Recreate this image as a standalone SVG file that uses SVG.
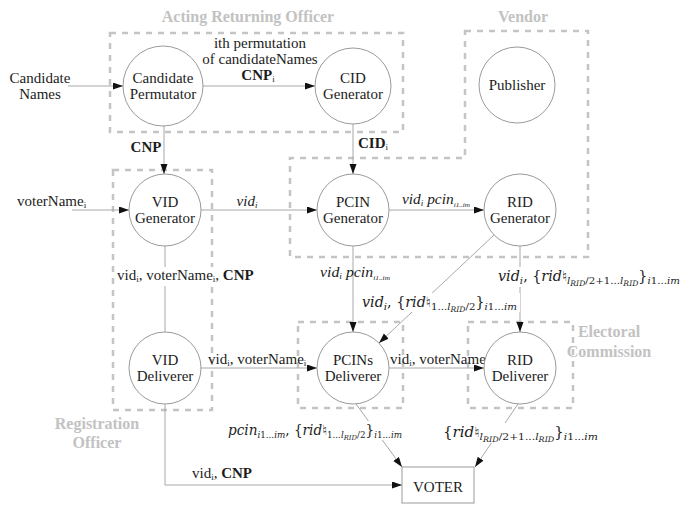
<svg xmlns="http://www.w3.org/2000/svg" width="694" height="506" viewBox="0 0 694 506">
<defs>
<marker id="ah" markerUnits="userSpaceOnUse" markerWidth="11" markerHeight="8" refX="10" refY="3.5" orient="auto"><path d="M0,0 L10,3.5 L0,7 z" fill="#111"/></marker>
<style>
.n{fill:#fff;stroke:#9a9a9a;stroke-width:1}
.t{font-family:"Liberation Serif","Times New Roman",serif;font-size:15px;fill:#1c1c1c}
.c{text-anchor:middle}
.b{font-weight:bold}
.s{font-size:9px}
.g{font-family:"Liberation Serif","Times New Roman",serif;font-size:16px;font-weight:bold;fill:#c2c2c2;text-anchor:middle}
.d{fill:none;stroke:#c4c4c4;stroke-width:2.5;stroke-dasharray:6 6}
.e{fill:none;stroke:#a8a8a8;stroke-width:1}
.a{marker-end:url(#ah)}
.m{font-family:"DejaVu Serif","Liberation Serif",serif;font-size:14px;fill:#1c1c1c}
.i{font-style:italic}
.ms{font-size:10px}
.mss{font-size:7.5px}
.w{fill:#fff}
</style>
</defs>
<rect width="694" height="506" fill="#fff"/>
<g id="groups">
<rect class="d" x="110" y="33" width="293" height="99"/>
<path class="d" d="M465,31 H588 V257 H290 V158 H465 Z"/>
<rect class="d" x="113" y="170" width="99" height="240"/>
<rect class="d" x="298" y="322" width="105" height="86"/>
<rect class="d" x="468" y="322" width="105" height="86"/>
<text class="g" x="248" y="22">Acting Returning Officer</text>
<text class="g" x="523" y="22">Vendor</text>
<text class="g" x="97" y="429">Registration</text>
<text class="g" x="97" y="448">Officer</text>
<text class="g" x="609" y="337">Electoral</text>
<text class="g" x="609" y="357">Commission</text>
</g>
<g id="connectors">
<path class="e a" d="M68,86 H123"/>
<path class="e a" d="M203,86 H315"/>
<path class="e a" d="M164,126 V174"/>
<path class="e a" d="M72,210 H129"/>
<path class="e a" d="M201,210 H317"/>
<path class="e a" d="M353,124 V174"/>
<path class="e a" d="M389,210 H484"/>
<path class="e a" d="M353,246 V332"/>
<path class="e a" d="M494,235 L379,343"/>
<path class="e a" d="M520,246 V332"/>
<path class="e" d="M165,246 V332"/>
<path class="e a" d="M201,368 H317"/>
<path class="e a" d="M389,368 H484"/>
<path class="e a" d="M165,404 V485 H402"/>
<path class="e a" d="M356,404 L402,467"/>
<path class="e a" d="M518,404 L475,467"/>
</g>
<g id="labels">
<text class="t c" x="40" y="83">Candidate</text>
<text class="t c" x="40" y="99">Names</text>
<text class="t c" x="260" y="48">ith permutation</text>
<text class="t c" x="260" y="64">of candidateNames</text>
<text class="t c" x="258" y="80"><tspan class="b">CNP</tspan><tspan class="s" dy="2">i</tspan></text>
<text class="t c b" x="146" y="152">CNP</text>
<text class="t" x="358" y="148"><tspan class="b">CID</tspan><tspan class="s" dy="2">i</tspan></text>
<text class="t" x="17" y="206">voterName<tspan class="s" dy="2">i</tspan></text>
<text class="t c" x="247" y="206"><tspan class="i">vid</tspan><tspan class="s i" dy="2">i</tspan></text>
<text class="t" x="402" y="204" textLength="68" lengthAdjust="spacingAndGlyphs"><tspan class="i">vid</tspan><tspan class="s i" dy="2">i</tspan><tspan class="i" dy="-2"> pcin</tspan><tspan class="i" font-size="7" dy="3">i1..im</tspan></text>
<text class="t" x="320" y="277" textLength="70" lengthAdjust="spacingAndGlyphs"><tspan class="i">vid</tspan><tspan class="s i" dy="2">i</tspan><tspan class="i" dy="-2"> pcin</tspan><tspan class="i" font-size="7" dy="3">i1..im</tspan></text>
<rect class="w" x="360" y="293" width="160" height="19"/>
<text class="m" x="362" y="307" textLength="155" lengthAdjust="spacingAndGlyphs"><tspan class="i">vid</tspan><tspan class="ms i" dy="3">i</tspan><tspan dy="-3">, {</tspan><tspan class="i">rid</tspan><tspan>♮</tspan><tspan class="ms" dy="3">1...</tspan><tspan class="ms i">l</tspan><tspan class="mss i" dy="2">RID</tspan><tspan class="ms" dy="-2">/2</tspan><tspan dy="-3">}</tspan><tspan class="ms i" dy="3">i</tspan><tspan class="ms">1...</tspan><tspan class="ms i">im</tspan></text>
<rect class="w" x="496" y="267" width="186" height="20"/>
<text class="m" x="498" y="281" textLength="182" lengthAdjust="spacingAndGlyphs"><tspan class="i">vid</tspan><tspan class="ms i" dy="3">i</tspan><tspan dy="-3">, {</tspan><tspan class="i">rid</tspan><tspan>♮</tspan><tspan class="ms i" dy="3">l</tspan><tspan class="mss i" dy="2">RID</tspan><tspan class="ms" dy="-2">/2+1...</tspan><tspan class="ms i">l</tspan><tspan class="mss i" dy="2">RID</tspan><tspan dy="-5">}</tspan><tspan class="ms i" dy="3">i</tspan><tspan class="ms">1...</tspan><tspan class="ms i">im</tspan></text>
<rect class="w" x="115" y="267" width="137" height="19"/>
<text class="t" x="117" y="280">vid<tspan class="s" dy="2">i</tspan><tspan dy="-2">, voterName</tspan><tspan class="s" dy="2">i</tspan><tspan dy="-2">, </tspan><tspan class="b">CNP</tspan></text>
<text class="t" x="208" y="364">vid<tspan class="s" dy="2">i</tspan><tspan dy="-2">, voterName</tspan><tspan class="s" dy="2">i</tspan></text>
<text class="t" x="390" y="364">vid<tspan class="s" dy="2">i</tspan><tspan dy="-2">, voterName</tspan><tspan class="s" dy="2">i</tspan></text>
<text class="t" x="192" y="478">vid<tspan class="s" dy="2">i</tspan><tspan dy="-2">, </tspan><tspan class="b">CNP</tspan></text>
<rect class="w" x="226" y="421" width="178" height="19"/>
<text class="m" x="228" y="435" font-size="13" textLength="174" lengthAdjust="spacingAndGlyphs"><tspan class="i">pcin</tspan><tspan class="i" font-size="9" dy="3">i</tspan><tspan font-size="9">1...</tspan><tspan class="i" font-size="9">im</tspan><tspan dy="-3">, {</tspan><tspan class="i">rid</tspan><tspan>♮</tspan><tspan font-size="9" dy="3">1...</tspan><tspan class="i" font-size="9">l</tspan><tspan class="i" font-size="7" dy="2">RID</tspan><tspan font-size="9" dy="-2">/2</tspan><tspan dy="-3">}</tspan><tspan class="i" font-size="9" dy="3">i</tspan><tspan font-size="9">1...</tspan><tspan class="i" font-size="9">im</tspan></text>
<rect class="w" x="441" y="423" width="160" height="20"/>
<text class="m" x="443" y="437" textLength="155" lengthAdjust="spacingAndGlyphs"><tspan>{</tspan><tspan class="i">rid</tspan><tspan>♮</tspan><tspan class="ms i" dy="3">l</tspan><tspan class="mss i" dy="2">RID</tspan><tspan class="ms" dy="-2">/2+1...</tspan><tspan class="ms i">l</tspan><tspan class="mss i" dy="2">RID</tspan><tspan dy="-5">}</tspan><tspan class="ms i" dy="3">i</tspan><tspan class="ms">1...</tspan><tspan class="ms i">im</tspan></text>
</g>
<g id="node-candidate-permutator"><circle class="n" cx="163" cy="86" r="40"/><text class="t c" x="163" y="83">Candidate</text><text class="t c" x="163" y="99">Permutator</text></g>
<g id="node-cid-generator"><circle class="n" cx="353" cy="86" r="38"/><text class="t c" x="353" y="83">CID</text><text class="t c" x="353" y="99">Generator</text></g>
<g id="node-publisher"><circle class="n" cx="517" cy="85" r="38"/><text class="t c" x="517" y="90">Publisher</text></g>
<g id="node-vid-generator"><circle class="n" cx="165" cy="210" r="36"/><text class="t c" x="165" y="207">VID</text><text class="t c" x="165" y="223">Generator</text></g>
<g id="node-pcin-generator"><circle class="n" cx="353" cy="210" r="36"/><text class="t c" x="353" y="207">PCIN</text><text class="t c" x="353" y="223">Generator</text></g>
<g id="node-rid-generator"><circle class="n" cx="520" cy="210" r="36"/><text class="t c" x="520" y="207">RID</text><text class="t c" x="520" y="223">Generator</text></g>
<g id="node-vid-deliverer"><circle class="n" cx="165" cy="368" r="36"/><text class="t c" x="165" y="365">VID</text><text class="t c" x="165" y="381">Deliverer</text></g>
<g id="node-pcins-deliverer"><circle class="n" cx="353" cy="368" r="36"/><text class="t c" x="353" y="365">PCINs</text><text class="t c" x="353" y="381">Deliverer</text></g>
<g id="node-rid-deliverer"><circle class="n" cx="520" cy="368" r="36"/><text class="t c" x="520" y="365">RID</text><text class="t c" x="520" y="381">Deliverer</text></g>
<g id="node-voter"><rect x="402" y="467" width="72" height="36" fill="#fff" stroke="#9a9a9a" stroke-width="1"/><text class="t c" x="438" y="492" font-size="18">VOTER</text></g>
</svg>
